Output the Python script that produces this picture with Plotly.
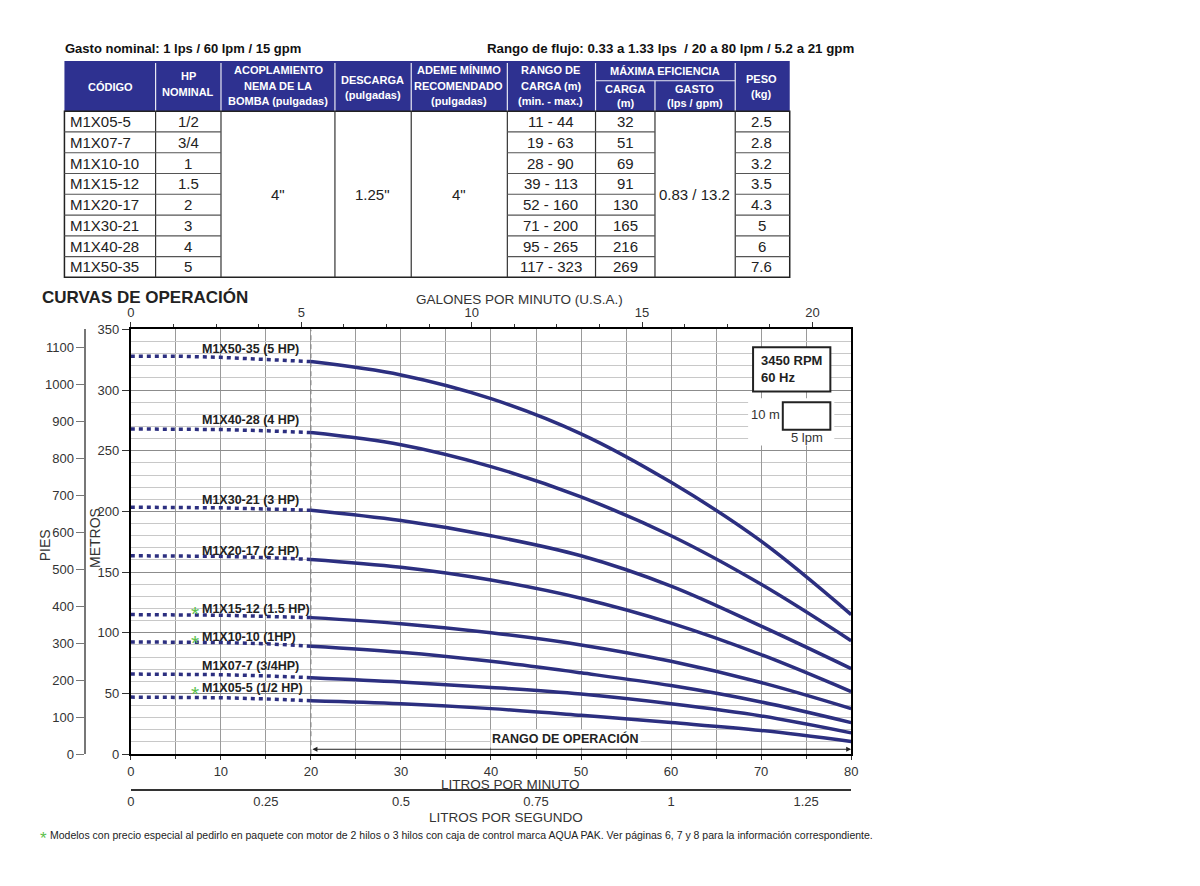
import plotly.graph_objects as go

W, H = 1200, 886
def X(px): return px / W
def Y(py): return 1 - py / H

SANS = "Liberation Sans, Arial, sans-serif"
NAVY = "#2c2f80"
HEAD = "#2e3190"
GREEN = "#5cbf4c"

# ---------------- data ----------------
lpm = [0, 5, 10, 15, 20, 30, 40, 50, 60, 70, 80]
curve_labels = ["M1X50-35 (5 HP)", "M1X40-28 (4 HP)", "M1X30-21 (3 HP)", "M1X20-17 (2 HP)",
                "M1X15-12 (1.5 HP)", "M1X10-10 (1HP)", "M1X07-7 (3/4HP)", "M1X05-5 (1/2 HP)"]
curve_star = [False, False, False, False, True, True, False, True]
head_50_35 = [328, 328, 327, 325.5, 323.5, 312.5, 293, 264, 224, 175.5, 115]
head_40_28 = [268, 268, 267.5, 266.5, 265, 255, 237, 212, 180, 140, 93.5]
head_30_21 = [203.5, 203.5, 203, 202, 201, 192.5, 180, 163.5, 138.5, 105.5, 70.5]
head_20_17 = [163.5, 163.5, 163, 162, 160.5, 154, 143.5, 128.5, 108, 82, 51.5]
head_15_12 = [115, 115, 114.5, 113.5, 112.5, 107.5, 100, 90, 76.5, 59, 37.5]
head_10_10 = [92.5, 92.5, 92, 91, 89, 84, 76.5, 67, 56.5, 43, 26]
head_07_7 = [66, 66, 65.5, 64.5, 63, 59.5, 55, 49.5, 41.5, 31.5, 17.5]
head_05_5 = [47, 47, 46.5, 45.5, 44, 41.5, 37.5, 32, 26, 19.5, 10.5]
heads = [head_50_35, head_40_28, head_30_21, head_20_17, head_15_12, head_10_10, head_07_7, head_05_5]
label_y_px = [348, 420, 501, 553, 612, 641, 670, 693]

# table data
tbl_codigo = ["M1X05-5", "M1X07-7", "M1X10-10", "M1X15-12", "M1X20-17", "M1X30-21", "M1X40-28", "M1X50-35"]
tbl_hp = ["1/2", "3/4", "1", "1.5", "2", "3", "4", "5"]
tbl_rango = ["11 - 44", "19 - 63", "28 - 90", "39 - 113", "52 - 160", "71 - 200", "95 - 265", "117 - 323"]
tbl_carga = ["32", "51", "69", "91", "130", "165", "216", "269"]
tbl_peso = ["2.5", "2.8", "3.2", "3.5", "4.3", "5", "6", "7.6"]
tbl_acople = '4"'
tbl_descarga = '1.25"'
tbl_ademe = '4"'
tbl_gasto = "0.83 / 13.2"

LPM_PER_GPM = 3.78541
FT_PER_M = 3.28084

fig = go.Figure()

split = lpm.index(20)
for name, h in zip(curve_labels, heads):
    fig.add_trace(go.Scatter(x=lpm[:split + 1], y=h[:split + 1], mode="lines",
                             line=dict(color=NAVY, width=3.5, dash="4px,4px"),
                             hoverinfo="skip", showlegend=False))
    fig.add_trace(go.Scatter(x=lpm[split:], y=h[split:], mode="lines",
                             line=dict(color=NAVY, width=3.5, shape="spline", smoothing=1.0),
                             name=name, showlegend=False))

# dummy traces so the extra axes get drawn
dummy = dict(mode="markers", marker=dict(opacity=0, size=1), hoverinfo="skip", showlegend=False)
fig.add_trace(go.Scatter(x=[0], y=[0], xaxis="x2", yaxis="y", **dummy))
fig.add_trace(go.Scatter(x=[0], y=[0], xaxis="x3", yaxis="y", **dummy))
fig.add_trace(go.Scatter(x=[0], y=[0], xaxis="x", yaxis="y2", **dummy))

tickfont = dict(family=SANS, size=13, color="#333")

fig.update_layout(
    width=W, height=H, margin=dict(l=0, r=0, t=0, b=0),
    paper_bgcolor="white", plot_bgcolor="white",
    xaxis=dict(domain=[X(128), X(855)], range=[0, 80], tick0=0, dtick=10,
               showline=True, linecolor="black", linewidth=2,
               ticks="outside", ticklen=4, tickcolor="#333", tickfont=tickfont,
               showgrid=True, gridcolor="#9a9a9a", gridwidth=1.4, zeroline=False,
               minor=dict(dtick=5, showgrid=True, gridcolor="#9a9a9a", gridwidth=1.4,
                          ticks="outside", ticklen=3, tickcolor="#333"),
               anchor="y", fixedrange=True),
    yaxis=dict(domain=[Y(760), Y(328)], range=[0, 350], tick0=0, dtick=50,
               showline=True, linecolor="black", linewidth=2, mirror=True,
               ticks="outside", ticklen=7, tickcolor="#333", tickfont=tickfont,
               showgrid=True, gridcolor="#8c8c8c", gridwidth=1.4, zeroline=False,
               minor=dict(dtick=10, showgrid=True, gridcolor="#c8c8c8", gridwidth=1),
               anchor="x", fixedrange=True),
    xaxis2=dict(overlaying="x", side="top", anchor="y",
                range=[0, 80 / LPM_PER_GPM], tick0=0, dtick=5,
                showline=True, linecolor="black", linewidth=2,
                ticks="outside", ticklen=5, tickcolor="#333", tickfont=tickfont,
                minor=dict(dtick=1.25, ticks="outside", ticklen=3, tickcolor="#333"),
                showgrid=False, zeroline=False, fixedrange=True),
    xaxis3=dict(overlaying="x", anchor="free", position=Y(796),
                range=[0, 80 / 60],
                tickvals=[0, 0.25, 0.5, 0.75, 1, 1.25],
                ticktext=["0", "0.25", "0.5", "0.75", "1", "1.25"],
                showline=True, linecolor="#333", linewidth=1.5,
                ticks="", tickfont=tickfont, showgrid=False, zeroline=False, fixedrange=True),
    yaxis2=dict(overlaying="y", anchor="free", position=X(82), side="left",
                range=[0, 350 * FT_PER_M], tick0=0, dtick=100,
                showline=True, linecolor="#777", linewidth=1.5,
                ticks="outside", ticklen=8, tickcolor="#777", tickfont=tickfont,
                showgrid=False, zeroline=False, fixedrange=True),
)

shapes = []
ann = []

# dashed line at 20 lpm
shapes.append(dict(type="line", xref="x", yref="y", x0=20, x1=20, y0=0, y1=350,
                   line=dict(color="#8a8a8a", width=1.2, dash="5px,4px"), layer="between"))

# ---------------- table ----------------
hdr_top, hdr_bot, body_bot = 55, 106, 275
tx0, tx1 = 61, 793
shapes.append(dict(type="rect", xref="paper", yref="paper", x0=X(tx0), x1=X(tx1),
                   y0=Y(hdr_bot), y1=Y(hdr_top), fillcolor=HEAD, line=dict(width=0)))
for cx in [153, 219, 334, 411, 508, 597, 738]:
    shapes.append(dict(type="line", xref="paper", yref="paper", x0=X(cx), x1=X(cx),
                       y0=Y(hdr_bot), y1=Y(hdr_top + 2), line=dict(color="#e8e8f4", width=1.2)))
shapes.append(dict(type="line", xref="paper", yref="paper", x0=X(657), x1=X(657),
                   y0=Y(hdr_bot), y1=Y(75), line=dict(color="#e8e8f4", width=1.2)))
shapes.append(dict(type="line", xref="paper", yref="paper", x0=X(597), x1=X(738),
                   y0=Y(75), y1=Y(75), line=dict(color="#e8e8f4", width=1.2)))
# body
shapes.append(dict(type="rect", xref="paper", yref="paper", x0=X(tx0), x1=X(tx1),
                   y0=Y(body_bot), y1=Y(hdr_bot), line=dict(color="#222", width=1.5)))
for cx in [153, 219, 334, 411, 508, 597, 657, 738]:
    shapes.append(dict(type="line", xref="paper", yref="paper", x0=X(cx), x1=X(cx),
                       y0=Y(body_bot), y1=Y(hdr_bot), line=dict(color="#333", width=1.2)))
row_h = (body_bot - hdr_bot) / 8
for i in range(1, 8):
    ry = hdr_bot + i * row_h
    for a, b in [(61, 219), (508, 657), (738, 793)]:
        shapes.append(dict(type="line", xref="paper", yref="paper", x0=X(a), x1=X(b),
                           y0=Y(ry), y1=Y(ry), line=dict(color="#555", width=1.2)))

def txt(x, y, s, size=12, bold=False, color="#222", family=SANS, xanchor="center",
        yanchor="middle", **kw):
    t = f"<b>{s}</b>" if bold else s
    d = dict(x=X(x), y=Y(y), xref="paper", yref="paper", text=t, showarrow=False,
             xanchor=xanchor, yanchor=yanchor, font=dict(family=family, size=size, color=color))
    d.update(kw)
    ann.append(d)

# header titles
txt(60, 42, "Gasto nominal: 1 lps / 60 lpm / 15 gpm", 13, True, "#111", xanchor="left")
txt(860, 42, "Rango de flujo: 0.33 a 1.33 lps&nbsp; / 20 a 80 lpm / 5.2 a 21 gpm", 13.3, True, "#111", xanchor="right")

hdr_lines = [
    (107, 81, "CÓDIGO"),
    (186, 70, "HP"), (186, 86, "NOMINAL"),
    (277, 64, "ACOPLAMIENTO"), (277, 80, "NEMA DE LA"), (277, 96, "BOMBA (pulgadas)"),
    (372, 74, "DESCARGA"), (372, 90, "(pulgadas)"),
    (459, 64, "ADEME MÍNIMO"), (459, 80, "RECOMENDADO"), (459, 96, "(pulgadas)"),
    (552, 64, "RANGO DE"), (552, 80, "CARGA (m)"), (552, 96, "(min. - max.)"),
    (667, 65, "MÁXIMA EFICIENCIA"),
    (627, 83, "CARGA"), (627, 98, "(m)"),
    (697, 83, "GASTO"), (697, 98, "(lps / gpm)"),
    (765, 73, "PESO"), (765, 89, "(kg)"),
]
for x, y, s in hdr_lines:
    txt(x, y, s, 11, True, "white")

BODY = 15
for i in range(8):
    cy = hdr_bot + (i + 0.5) * row_h
    txt(65, cy, tbl_codigo[i], BODY, False, "#222", xanchor="left")
    txt(186, cy, tbl_hp[i], BODY)
    txt(552, cy, tbl_rango[i], BODY)
    txt(627, cy, tbl_carga[i], BODY)
    txt(765, cy, tbl_peso[i], BODY)
mid = (hdr_bot + body_bot) / 2
txt(277, mid, tbl_acople, BODY)
txt(372, mid, tbl_descarga, BODY)
txt(459, mid, tbl_ademe, BODY)
txt(697, mid, tbl_gasto, BODY)

# ---------------- chart texts ----------------
txt(36, 295, "CURVAS DE OPERACIÓN", 17, True, "#222", xanchor="left")
txt(520, 298, "GALONES POR MINUTO (U.S.A.)", 13.5, False, "#333")
txt(511, 791, "LITROS POR MINUTO", 13.5, False, "#333")
txt(507, 824, "LITROS POR SEGUNDO", 13.5, False, "#333")
txt(41, 548, "PIES", 14, False, "#333", textangle=-90)
txt(92, 540, "METROS", 14, False, "#333", textangle=-90)

for lab, star, ly in zip(curve_labels, curve_star, label_y_px):
    txt(198, ly, lab, 12.5, True, "#222", xanchor="left")
    if star:
        txt(193, ly + 5, "*", 21, False, GREEN)

# RPM box
shapes.append(dict(type="rect", xref="paper", yref="paper", x0=X(756), x1=X(834),
                   y0=Y(391), y1=Y(346), fillcolor="white", line=dict(color="#222", width=2)))
txt(762, 368, "3450 RPM<br>60 Hz", 13, True, "#222", xanchor="left", align="left")
# scale box
shapes.append(dict(type="rect", xref="paper", yref="paper", x0=X(751), x1=X(838),
                   y0=Y(446), y1=Y(398), fillcolor="white", line=dict(width=0)))
shapes.append(dict(type="rect", xref="paper", yref="paper", x0=X(786), x1=X(834),
                   y0=Y(430), y1=Y(402), fillcolor="white", line=dict(color="#222", width=2)))
txt(785, 415, "10 m", 13, False, "#333", xanchor="right")
txt(810, 438, "5 lpm", 13, False, "#333")

# operating range arrow
ann.append(dict(x=80, y=4, xref="x", yref="y", ax=20, ay=4, axref="x", ayref="y",
                text="", showarrow=True, arrowhead=2, arrowsize=1, arrowwidth=1,
                arrowside="end+start", arrowcolor="#222"))
txt(567, 744, "RANGO DE OPERACIÓN", 12.5, True, "#222", bgcolor="white", borderpad=1)

# footnote
txt(40, 846, "*", 17, False, GREEN)
txt(44, 842, "Modelos con precio especial al pedirlo en paquete con motor de 2 hilos o 3 hilos con caja de control marca AQUA PAK. Ver páginas 6, 7 y 8 para la información correspondiente.",
    10.5, False, "#222", xanchor="left")

fig.update_layout(shapes=shapes, annotations=ann)
fig.write_html("out.html")
